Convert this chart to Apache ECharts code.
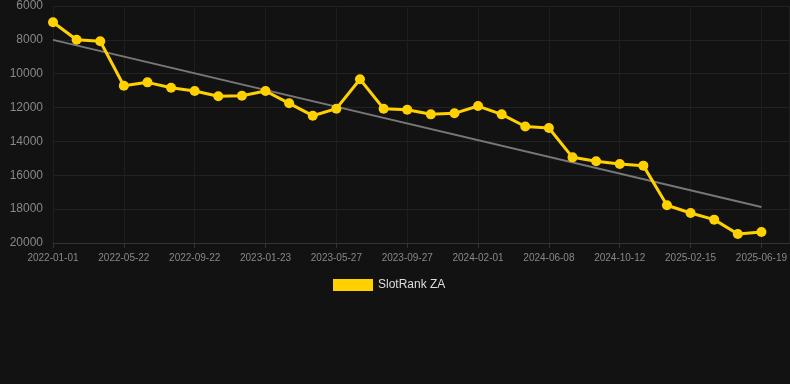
<!DOCTYPE html>
<html><head><meta charset="utf-8">
<script src="https://cdn.jsdelivr.net/npm/echarts@6/dist/echarts.min.js"></script>
<style>html,body{margin:0;padding:0;background:#121212;}#c{width:790px;height:384px;}</style>
</head><body><div id="c"></div>
<script>
const dates = ['2022-01-01','2022-02-17','2022-04-05','2022-05-22','2022-07-02','2022-08-12','2022-09-22','2022-11-01','2022-12-12','2023-01-23','2023-03-05','2023-04-15','2023-05-27','2023-07-07','2023-08-17','2023-09-27','2023-11-07','2023-12-19','2024-02-01','2024-03-13','2024-04-25','2024-06-08','2024-07-19','2024-08-31','2024-10-12','2024-11-22','2025-01-04','2025-02-15','2025-03-28','2025-05-09','2025-06-19'];
const rank = [6960,7990,8085,10710,10510,10825,11020,11335,11300,11020,11750,12480,12065,10330,12065,12125,12400,12340,11910,12400,13120,13210,14940,15175,15335,15430,17770,18225,18620,19470,19350];
const trendStart = 8000, trendEnd = 17870;
const seriesName = 'SlotRank ZA';

const points = rank.map((v, i) => [i, v]);
const lastIdx = dates.length - 1;
const chart = echarts.init(document.getElementById('c'), null, {renderer:'canvas'});
chart.setOption({
  backgroundColor:'#121212',
  animation:false,
  grid:{left:53,right:0,top:6,bottom:141},
  legend:{data:[{name:seriesName,icon:'rect'}],top:274,left:328,itemWidth:40,itemHeight:12,itemGap:10,
    textStyle:{color:'#dddddd',fontSize:12,fontFamily:'Liberation Sans, Arial, sans-serif'}},
  xAxis:{type:'value',min:0,max:lastIdx*737/709,interval:3,
    axisLine:{show:true,lineStyle:{color:'#333'}},
    axisTick:{show:true,lineStyle:{color:'#333'}},
    axisLabel:{showMaxLabel:false,color:'#888',fontSize:10,fontFamily:'Liberation Sans, Arial, sans-serif',margin:10,
      formatter:v=>Number.isInteger(v)&&dates[v]?dates[v]:''},
    splitLine:{show:true,lineStyle:{color:'#1e1e1e'}}},
  yAxis:{type:'value',inverse:true,min:6000,max:20000,interval:2000,
    axisLine:{show:false},axisTick:{show:false},
    axisLabel:{color:'#888',fontSize:12,fontFamily:'Liberation Sans, Arial, sans-serif',margin:10,formatter:v=>String(v)},
    splitLine:{lineStyle:{color:'#222'}}},
  series:[
    {name:seriesName,type:'line',data:points,symbol:'circle',symbolSize:10,
     itemStyle:{color:'#ffd100'},lineStyle:{color:'#ffd100',width:3},z:3},
    {name:'trend',type:'line',data:[[0,trendStart],[lastIdx,trendEnd]],
     symbol:'none',lineStyle:{color:'#777',width:2},z:2,silent:true}
  ]
});
</script></body></html>
